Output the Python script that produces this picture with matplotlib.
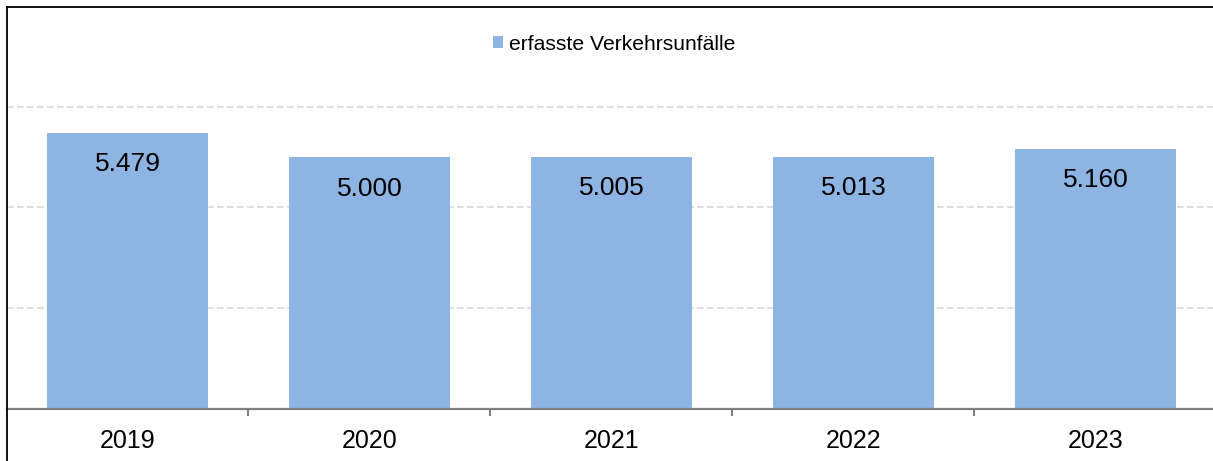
import matplotlib.pyplot as plt
from matplotlib.lines import Line2D
from matplotlib.patches import Patch

# data
years = ['2019', '2020', '2021', '2022', '2023']
unfaelle = [5479, 5000, 5005, 5013, 5160]
value_labels = ['5.479', '5.000', '5.005', '5.013', '5.160']
series_name = 'erfasste Verkehrsunfälle'

plt.rcParams['font.family'] = ['Liberation Sans', 'DejaVu Sans']

W, H = 1213, 461
fig = plt.figure(figsize=(W / 100, H / 100), dpi=100)
# plot area: x from 6.5 px to 1216.5 px, y from 6.5 px (top) to 408.5 px (baseline)
ax = fig.add_axes([6.5 / W, (H - 408.5) / H, 1210 / W, 402 / H])

bar_color = '#8EB4E3'
x = range(len(years))
ax.bar(x, unfaelle, width=0.665, color=bar_color, zorder=2)

for xi, v, lab in zip(x, unfaelle, value_labels):
    ax.annotate(lab, (xi, v), xytext=(0, -22.5), textcoords='offset points',
                ha='center', va='center', fontsize=19, color='black', zorder=3)

ax.set_xlim(-0.5, len(years) - 0.5)
ax.set_ylim(0, 8000)
ax.set_yticks([2000, 4000, 6000])
ax.yaxis.grid(True, color='#D9D9D9', linestyle=(0, (4, 2)), linewidth=1.2, zorder=0)
ax.tick_params(axis='y', left=False, labelleft=False)

# category labels centered, ticks between categories
ax.set_xticks(list(x))
ax.set_xticklabels(years, fontsize=18)
ax.tick_params(axis='x', which='major', length=0, pad=15)
ax.set_xticks([i + 0.5 for i in range(len(years) - 1)], minor=True)
ax.tick_params(axis='x', which='minor', length=5, width=1.5, color='#808080', direction='out')

for s in ['top', 'right', 'left']:
    ax.spines[s].set_visible(False)
ax.spines['bottom'].set_color('#808080')
ax.spines['bottom'].set_linewidth(1.6)

# outer border (top and left)
fig.add_artist(Line2D([7 / W, 1], [1 - 7.5 / H, 1 - 7.5 / H], transform=fig.transFigure,
                      color='black', linewidth=1.3))
fig.add_artist(Line2D([7 / W, 7 / W], [0, 1 - 7.5 / H], transform=fig.transFigure,
                      color='black', linewidth=1.3))

handle = Patch(facecolor=bar_color, edgecolor='none')
ax.legend([handle], [series_name], loc='center', bbox_to_anchor=(614 / W, 1 - 44 / H),
          bbox_transform=fig.transFigure, frameon=False, fontsize=15.2,
          handlelength=0.5, handleheight=0.5, handletextpad=0.25)

fig.savefig('out.png', dpi=100)
